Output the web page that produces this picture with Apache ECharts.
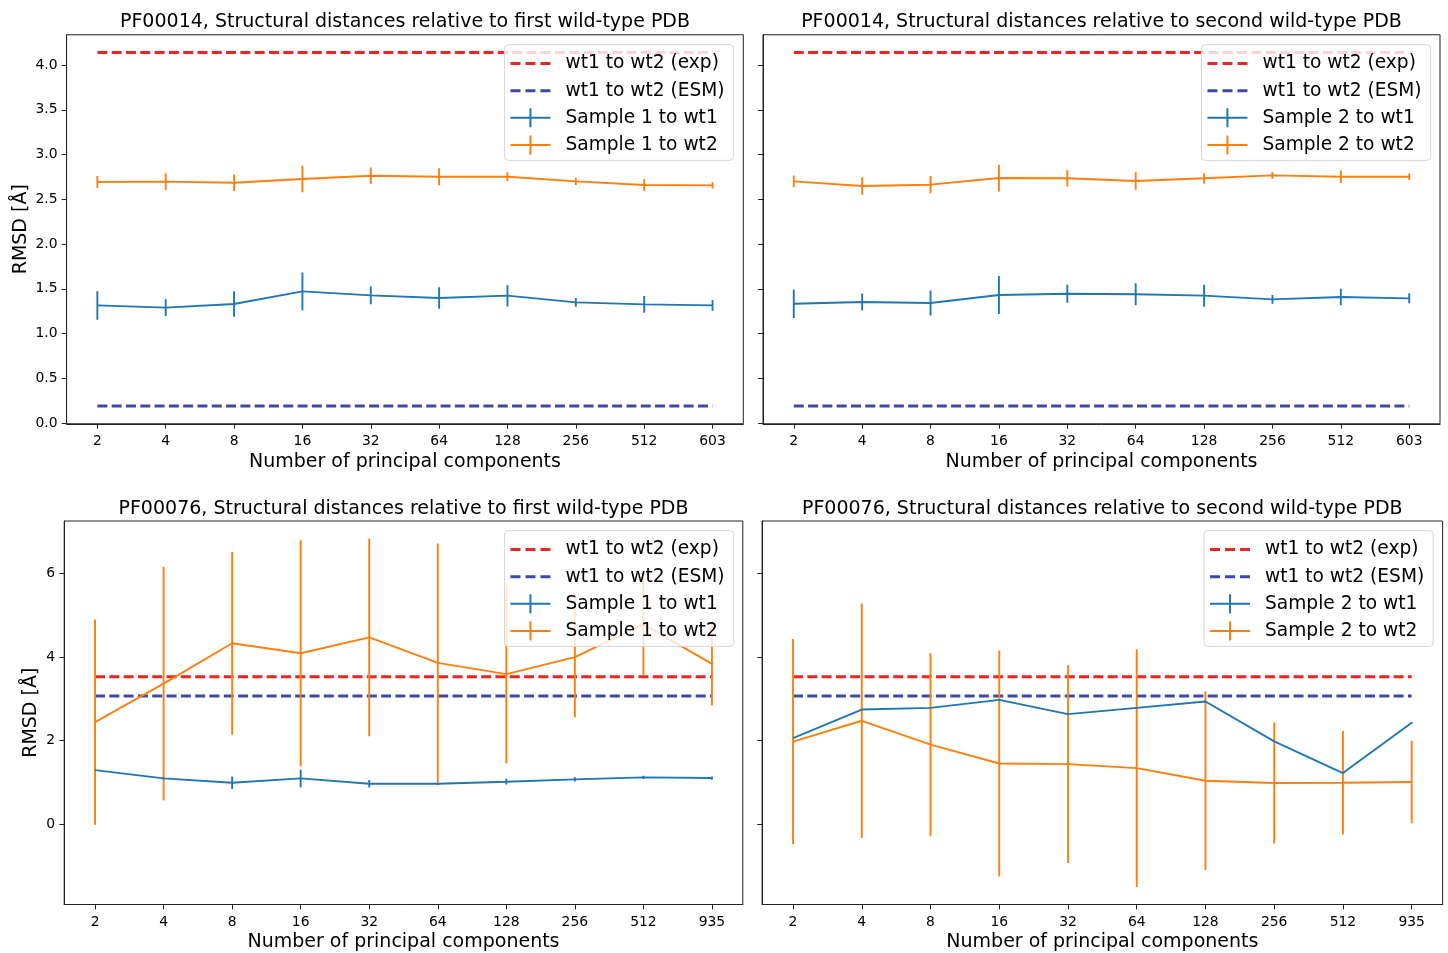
<!DOCTYPE html>
<html><head><meta charset="utf-8">
<script src="https://cdn.jsdelivr.net/npm/echarts@6/dist/echarts.min.js"></script>
<style>html,body{margin:0;padding:0;background:#fff}#c{width:1448px;height:953px}</style>
</head><body><div id="c"></div>
<script>
// ---------- data ----------
const xLabelsTop = ['2','4','8','16','32','64','128','256','512','603'];
const xLabelsBottom = ['2','4','8','16','32','64','128','256','512','935'];
const yTicksTop = [0, 0.5, 1, 1.5, 2, 2.5, 3, 3.5, 4];
const yTicksBottom = [0, 2, 4, 6];

const titles = [
  'PF00014, Structural distances relative to first wild-type PDB',
  'PF00014, Structural distances relative to second wild-type PDB',
  'PF00076, Structural distances relative to first wild-type PDB',
  'PF00076, Structural distances relative to second wild-type PDB'
];
const legendExp = 'wt1 to wt2 (exp)';
const legendEsm = 'wt1 to wt2 (ESM)';
const sampleNames = [
  ['Sample 1 to wt1', 'Sample 1 to wt2'],
  ['Sample 2 to wt1', 'Sample 2 to wt2'],
  ['Sample 1 to wt1', 'Sample 1 to wt2'],
  ['Sample 2 to wt1', 'Sample 2 to wt2']
];

// PF00014 reference lines
const expTop = [4.14, 4.14, 4.14, 4.14, 4.14, 4.14, 4.14, 4.14, 4.14, 4.14];
const esmTop = [0.19, 0.19, 0.19, 0.19, 0.19, 0.19, 0.19, 0.19, 0.19, 0.19];
// PF00076 reference lines
const expBottom = [3.53, 3.53, 3.53, 3.53, 3.53, 3.53, 3.53, 3.53, 3.53, 3.53];
const esmBottom = [3.07, 3.07, 3.07, 3.07, 3.07, 3.07, 3.07, 3.07, 3.07, 3.07];

// PF00014, sample 1
const tl_wt1 = [1.315, 1.289, 1.330, 1.471, 1.426, 1.397, 1.423, 1.348, 1.326, 1.315];
const tl_wt1_err = [0.16, 0.093, 0.143, 0.212, 0.10, 0.12, 0.12, 0.05, 0.093, 0.06];
const tl_wt2 = [2.693, 2.697, 2.685, 2.726, 2.763, 2.752, 2.752, 2.700, 2.659, 2.655];
const tl_wt2_err = [0.067, 0.093, 0.093, 0.149, 0.093, 0.095, 0.05, 0.04, 0.065, 0.034];
// PF00014, sample 2
const tr_wt1 = [1.333, 1.352, 1.341, 1.430, 1.445, 1.438, 1.423, 1.382, 1.408, 1.393];
const tr_wt1_err = [0.16, 0.095, 0.14, 0.212, 0.10, 0.123, 0.123, 0.048, 0.093, 0.056];
const tr_wt2 = [2.700, 2.648, 2.663, 2.737, 2.734, 2.704, 2.734, 2.767, 2.752, 2.752];
const tr_wt2_err = [0.065, 0.097, 0.097, 0.149, 0.091, 0.099, 0.058, 0.037, 0.069, 0.037];
// PF00076, sample 1
const bl_wt1 = [1.294, 1.095, 0.992, 1.095, 0.968, 0.968, 1.016, 1.071, 1.119, 1.103];
const bl_wt1_err = [0.04, 0.04, 0.15, 0.21, 0.09, 0.03, 0.07, 0.05, 0.04, 0.04];
const bl_wt2 = [2.444, 3.365, 4.333, 4.095, 4.476, 3.865, 3.595, 4.0, 4.786, 3.841];
const bl_wt2_err = [2.46, 2.80, 2.19, 2.71, 2.37, 2.86, 2.14, 1.44, 1.23, 1.0];
// PF00076, sample 2
const br_wt1 = [2.063, 2.746, 2.786, 2.976, 2.635, 2.786, 2.937, 1.984, 1.222, 2.429];
const br_wt1_err = [0.02, 0.02, 0.02, 0.02, 0.02, 0.02, 0.02, 0.02, 0.02, 0.02];
const br_wt2 = [1.976, 2.476, 1.905, 1.452, 1.437, 1.341, 1.040, 0.984, 0.992, 1.008];
const br_wt2_err = [2.46, 2.81, 2.19, 2.71, 2.37, 2.85, 2.14, 1.45, 1.24, 0.99];

// ---------- styling / layout ----------
const FONT = 'DejaVu Sans';
const RED = '#ee2424';
const NAVY = '#3b4ba5';
const BLUE = '#1f77b4';
const ORANGE = '#ff7f0e';
const DASH = [10, 4.3];
const ERR_ICON = 'path://M0,8.5H40V10.5H0Z M19,0H21V19H19Z';
const DASH_ICON = 'path://M0,0H0.01V0.01H0Z M39.99,18.99H40V19H39.99Z M0,8H10V11H0Z M15,8H25V11H15Z M30,8H40V11H30Z';

const panels = [
  { grid: {left: 66.6, top: 34.75, width: 676.7, height: 389}, titleX: 405, titleTop: 13,
    xLabels: xLabelsTop, yMin: -0.008, yMax: 4.338, yTicks: yTicksTop, dec: 1, yLabels: true, yNameGap: 36,
    exp: expTop, esm: esmTop, a: tl_wt1, ae: tl_wt1_err, b: tl_wt2, be: tl_wt2_err,
    legendRight: 714.4, legendTop: 44.6 },
  { grid: {left: 763, top: 34.75, width: 677, height: 389}, titleX: 1101.5, titleTop: 13,
    xLabels: xLabelsTop, yMin: -0.008, yMax: 4.338, yTicks: yTicksTop, dec: 1, yLabels: false,
    exp: expTop, esm: esmTop, a: tr_wt1, ae: tr_wt1_err, b: tr_wt2, be: tr_wt2_err,
    legendRight: 17.4, legendTop: 44.6 },
  { grid: {left: 64.2, top: 521, width: 678.6, height: 387.5}, titleX: 403.5, titleTop: 500,
    xLabels: xLabelsBottom, yMin: -1.927, yMax: 7.264, yTicks: yTicksBottom, dec: 0, yLabels: true, yNameGap: 24,
    exp: expBottom, esm: esmBottom, a: bl_wt1, ae: bl_wt1_err, b: bl_wt2, be: bl_wt2_err,
    legendRight: 714.4, legendTop: 530.6 },
  { grid: {left: 762.1, top: 521, width: 680.5, height: 387.5}, titleX: 1102.3, titleTop: 500,
    xLabels: xLabelsBottom, yMin: -1.927, yMax: 7.264, yTicks: yTicksBottom, dec: 0, yLabels: false,
    exp: expBottom, esm: esmBottom, a: br_wt1, ae: br_wt1_err, b: br_wt2, be: br_wt2_err,
    legendRight: 14.8, legendTop: 530.6 }
];

const option = {
  animation: false,
  backgroundColor: '#fff',
  title: [], grid: [], xAxis: [], yAxis: [], legend: [], series: []
};

function errRenderer(color) {
  return function (params, api) {
    const p1 = api.coord([api.value(0), api.value(1)]);
    const p2 = api.coord([api.value(0), api.value(2)]);
    return { type: 'line', shape: {x1: p1[0], y1: p1[1], x2: p2[0], y2: p2[1]},
             style: {stroke: color, lineWidth: 1.9} };
  };
}

panels.forEach((p, i) => {
  const names = sampleNames[i];
  option.title.push({
    text: titles[i], left: p.titleX, top: p.titleTop, textAlign: 'center', padding: 0,
    textStyle: {fontFamily: FONT, fontSize: 19, fontWeight: 'normal', color: '#000'}
  });
  option.grid.push(Object.assign({show: true, borderColor: '#222', borderWidth: 1, backgroundColor: 'transparent'}, p.grid));
  const xTickVals = p.xLabels.map((_, j) => j);
  option.xAxis.push({
    type: 'value', gridIndex: i, min: -0.45, max: 9.45,
    name: 'Number of principal components', nameLocation: 'middle', nameGap: 28.5,
    nameTextStyle: {fontFamily: FONT, fontSize: 19, color: '#000'},
    axisLine: {show: true, onZero: false, lineStyle: {color: '#222', width: 1}},
    axisTick: {show: true, length: 4.9, customValues: xTickVals, lineStyle: {color: '#222', width: 1}},
    axisLabel: {show: true, customValues: xTickVals, margin: 10.5, fontFamily: FONT, fontSize: 13.9, color: '#000',
      formatter: (v) => p.xLabels[Math.round(v)]},
    splitLine: {show: false}
  });
  option.yAxis.push({
    type: 'value', gridIndex: i, min: p.yMin, max: p.yMax,
    name: p.yLabels ? 'RMSD [Å]' : '', nameLocation: 'middle', nameGap: p.yNameGap || 30,
    nameTextStyle: {fontFamily: FONT, fontSize: 19, color: '#000'},
    axisLine: {show: true, onZero: false, lineStyle: {color: '#222', width: 1}},
    axisTick: {show: true, length: 4.9, customValues: p.yTicks, lineStyle: {color: '#222', width: 1}},
    axisLabel: {show: p.yLabels, customValues: p.yTicks, margin: 9, fontFamily: FONT, fontSize: 13.9, color: '#000',
      formatter: (v) => v.toFixed(p.dec)},
    splitLine: {show: false}
  });
  option.legend.push({
    orient: 'vertical', right: p.legendRight, top: p.legendTop,
    padding: [9.5, 9, 6, 6], itemGap: 8.1, itemWidth: 40, itemHeight: 19,
    backgroundColor: 'rgba(255,255,255,0.8)', borderColor: '#d6d6d6', borderWidth: 1, borderRadius: 4,
    selectedMode: false,
    textStyle: {fontFamily: FONT, fontSize: 18.6, color: '#000', lineHeight: 19, padding: [0, 0, 0, 10]},
    data: [
      {name: legendExp, icon: DASH_ICON, itemStyle: {color: RED, borderWidth: 0}},
      {name: legendEsm, icon: DASH_ICON, itemStyle: {color: NAVY, borderWidth: 0}},
      {name: names[0], icon: ERR_ICON, itemStyle: {color: BLUE, borderWidth: 0}},
      {name: names[1], icon: ERR_ICON, itemStyle: {color: ORANGE, borderWidth: 0}}
    ]
  });
  const ax = {xAxisIndex: i, yAxisIndex: i};
  option.series.push(Object.assign({
    type: 'line', name: legendExp, data: p.exp.map((v, j) => [j, v]), symbol: 'none', z: 2,
    lineStyle: {color: RED, width: 3, type: DASH}, itemStyle: {color: RED}
  }, ax));
  option.series.push(Object.assign({
    type: 'line', name: legendEsm, data: p.esm.map((v, j) => [j, v]), symbol: 'none', z: 2,
    lineStyle: {color: NAVY, width: 3, type: DASH}, itemStyle: {color: NAVY}
  }, ax));
  [[names[0], p.a, p.ae, BLUE], [names[1], p.b, p.be, ORANGE]].forEach(([nm, vals, errs, col]) => {
    option.series.push(Object.assign({
      type: 'line', name: nm, data: vals.map((v, j) => [j, v]), symbol: 'none', z: 3,
      lineStyle: {color: col, width: 1.9}, itemStyle: {color: col}
    }, ax));
    option.series.push(Object.assign({
      type: 'custom', name: nm, z: 3, clip: true, renderItem: errRenderer(col), itemStyle: {color: col},
      encode: {x: 0, y: [1, 2]},
      data: vals.map((v, j) => [j, v - errs[j], v + errs[j]])
    }, ax));
  });
});

const chart = echarts.init(document.getElementById('c'), null, {renderer: 'canvas'});
chart.setOption(option);
</script>
</body></html>
